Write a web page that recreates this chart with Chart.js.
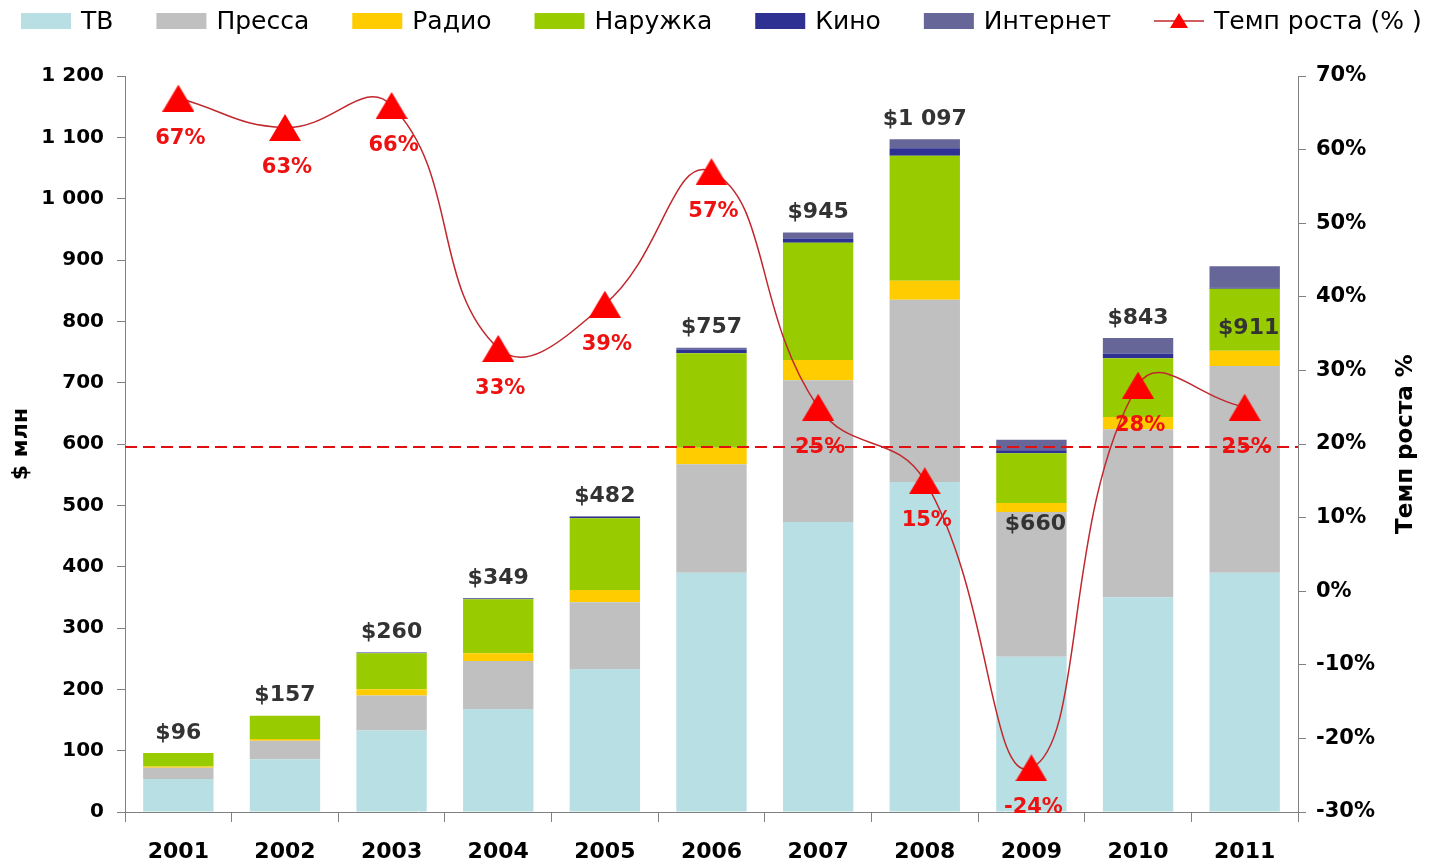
<!DOCTYPE html>
<html><head><meta charset="utf-8">
<script src="https://cdn.jsdelivr.net/npm/chart.js@4.4.1/dist/chart.umd.min.js"></script>
<style>html,body{margin:0;padding:0;background:#fff;overflow:hidden}canvas{display:block}</style>
</head><body>
<canvas id="c" width="1429" height="867"></canvas>
<script>
// ---------- data ----------
const years    = ['2001','2002','2003','2004','2005','2006','2007','2008','2009','2010','2011'];
const tv       = [54, 86, 133, 168, 233, 390, 473, 538, 253, 350, 390];
const press    = [18, 30,  57,  78, 109, 177, 231, 297, 236, 274, 337];
const radio    = [ 2,  3,  10,  13,  20,  27,  33,  31,  15,  20,  25];
const outdoor  = [22, 38,  59,  88, 117, 154, 191, 204,  81,  96, 101];
const cinema   = [ 0,  0,   1,   1,   2,   6,   7,  12,   5,   7,   2];
const internet = [ 0,  0,   0,   1,   1,   3,  10,  15,  17,  26,  35];
const growth   = [67, 63, 66, 33, 39, 57, 25, 15, -24, 28, 25];
const totalLabels  = ['$96','$157','$260','$349','$482','$757','$945','$1 097','$660','$843','$911'];
const growthLabels = ['67%','63%','66%','33%','39%','57%','25%','15%','-24%','28%','25%'];
const thresholdPct = 19.6;

// ---------- styles ----------
const FONT = 'DejaVu Sans';
const COLORS = {tv:'#b8e0e4', press:'#c0c0c0', radio:'#ffcc00', outdoor:'#99cc00', cinema:'#2e3192', internet:'#666699', line:'#c0282d', marker:'#ff0000'};

function triangleCanvas(w, h) {
  const c = document.createElement('canvas'); c.width = w; c.height = h;
  const g = c.getContext('2d');
  g.fillStyle = COLORS.marker;
  g.beginPath(); g.moveTo(w/2, 0); g.lineTo(w, h); g.lineTo(0, h); g.closePath(); g.fill();
  return c;
}
const marker = triangleCanvas(32, 27);

const legendItems = [
  {text:'ТВ', color:COLORS.tv},
  {text:'Пресса', color:COLORS.press},
  {text:'Радио', color:COLORS.radio},
  {text:'Наружка', color:COLORS.outdoor},
  {text:'Кино', color:COLORS.cinema},
  {text:'Интернет', color:COLORS.internet},
  {text:'Темп роста (% )', line:true}
];

const overlay = {
  id: 'overlay',
  beforeDatasetDraw(chart, args) {
    if (chart.data.datasets[args.index].type !== 'line') return;
    const {ctx, chartArea} = chart;
    const y = chart.scales.y1.getPixelForValue(thresholdPct);
    ctx.save();
    ctx.strokeStyle = '#e01010'; ctx.lineWidth = 2; ctx.setLineDash([12, 6]);
    ctx.beginPath(); ctx.moveTo(chartArea.left, y); ctx.lineTo(chartArea.right, y); ctx.stroke();
    ctx.restore();
  },
  afterDatasetsDraw(chart, args, opts) {
    const {ctx} = chart;
    const ys = chart.scales.y;
    const meta0 = chart.getDatasetMeta(0);
    const nBars = 6;
    ctx.save();
    ctx.textAlign = 'center'; ctx.textBaseline = 'middle';
    // totals
    ctx.font = 'bold 22px "' + FONT + '"'; ctx.fillStyle = '#333333';
    years.forEach((yr, i) => {
      let sum = 0;
      for (let d = 0; d < nBars; d++) sum += chart.data.datasets[d].data[i];
      const top = ys.getPixelForValue(sum);
      const off = opts.inside[i];
      const y = off !== undefined ? top + off : top - 20;
      ctx.fillText(totalLabels[i], meta0.data[i].x + (off !== undefined ? 4 : 0), y);
    });
    // growth labels
    const lm = chart.getDatasetMeta(6);
    ctx.font = 'bold 21px "' + FONT + '"'; ctx.fillStyle = '#ee1111';
    lm.data.forEach((p, i) => ctx.fillText(growthLabels[i], p.x + 2, p.y + 40));
    // right axis title
    ctx.font = 'bold 23px "' + FONT + '"'; ctx.fillStyle = '#000';
    ctx.translate(1406, (chart.chartArea.top + chart.chartArea.bottom) / 2);
    ctx.rotate(-Math.PI / 2);
    ctx.fillText('Темп роста %', 0, 0);
    ctx.restore();
    // legend
    ctx.save();
    ctx.font = '25px "' + FONT + '"'; ctx.textBaseline = 'middle'; ctx.textAlign = 'left';
    const boxW = 50, boxH = 16, gapText = 10, gapItem = 43, cy = 21;
    let total = 0;
    legendItems.forEach((it, k) => { it.w = ctx.measureText(it.text).width; total += boxW + gapText + it.w + (k ? gapItem : 0); });
    let x = Math.round(721 - total / 2);
    legendItems.forEach(it => {
      if (it.line) {
        ctx.strokeStyle = COLORS.line; ctx.lineWidth = 1.5;
        ctx.beginPath(); ctx.moveTo(x, cy); ctx.lineTo(x + boxW, cy); ctx.stroke();
        ctx.fillStyle = COLORS.marker;
        ctx.beginPath(); ctx.moveTo(x + boxW/2, cy - 8); ctx.lineTo(x + boxW/2 + 9, cy + 7); ctx.lineTo(x + boxW/2 - 9, cy + 7); ctx.closePath(); ctx.fill();
      } else {
        ctx.fillStyle = it.color; ctx.fillRect(x, cy - boxH/2, boxW, boxH);
      }
      ctx.fillStyle = '#000';
      ctx.fillText(it.text, x + boxW + gapText, cy + 1);
      x += boxW + gapText + it.w + gapItem;
    });
    ctx.restore();
  }
};

const barDs = (label, data, color) => ({label, data, backgroundColor: color, borderWidth: 0, stack: 's', yAxisID: 'y', order: 1, barPercentage: 0.66, categoryPercentage: 1});

new Chart(document.getElementById('c'), {
  type: 'bar',
  data: {
    labels: years,
    datasets: [
      barDs('ТВ', tv, COLORS.tv),
      barDs('Пресса', press, COLORS.press),
      barDs('Радио', radio, COLORS.radio),
      barDs('Наружка', outdoor, COLORS.outdoor),
      barDs('Кино', cinema, COLORS.cinema),
      barDs('Интернет', internet, COLORS.internet),
      {type: 'line', label: 'Темп роста (% )', data: growth, yAxisID: 'y1', order: 0,
       borderColor: COLORS.line, borderWidth: 1.5, tension: 0.45, fill: false,
       pointStyle: marker, pointRadius: 16, pointHoverRadius: 16}
    ]
  },
  options: {
    responsive: false, animation: false, events: [],
    layout: {padding: {top: 76, left: 0, right: 0, bottom: 0}},
    plugins: {legend: {display: false}, tooltip: {enabled: false},
      overlay: {inside: {8: 85, 10: 62}}},
    scales: {
      x: {stacked: true, offset: true,
        grid: {offset: true, drawOnChartArea: false, tickLength: 10, color: '#808080'},
        border: {color: '#808080'},
        ticks: {color: '#000', font: {family: FONT, size: 22, weight: 'bold'}, padding: 17, maxRotation: 0},
        afterFit(s) { s.height = 55; }
      },
      y: {position: 'left', stacked: true, min: 0, max: 1200,
        grid: {drawOnChartArea: false, tickLength: 8, color: '#808080'},
        border: {color: '#808080'},
        ticks: {stepSize: 100, color: '#000', font: {family: FONT, size: 20, weight: 'bold'}, padding: 13,
          callback: v => String(v).replace(/\B(?=(\d{3})+(?!\d))/g, ' ')},
        title: {display: true, text: '$ млн', color: '#000', font: {family: FONT, size: 22, weight: 'bold'}, padding: {top: 8, bottom: 0}},
        afterFit(s) { s.width = 125; }
      },
      y1: {position: 'right', min: -30, max: 70,
        grid: {drawOnChartArea: false, tickLength: 8, color: '#808080'},
        border: {color: '#808080'},
        ticks: {stepSize: 10, color: '#000', font: {family: FONT, size: 21, weight: 'bold'}, padding: 10,
          callback: v => v + '%'},
        afterFit(s) { s.width = 131; }
      }
    }
  },
  plugins: [overlay]
});
</script>
</body></html>
